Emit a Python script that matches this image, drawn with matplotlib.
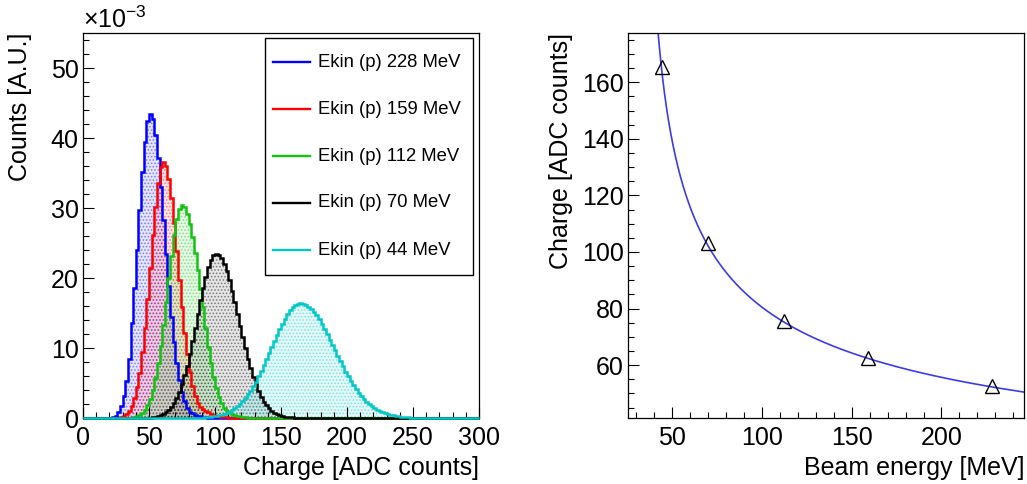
import numpy as np
import matplotlib
matplotlib.use('Agg')
import matplotlib.pyplot as plt
from matplotlib.colors import to_rgba
from matplotlib.patches import Rectangle
from matplotlib.ticker import MultipleLocator

plt.rcParams['font.family'] = ['Liberation Sans', 'DejaVu Sans']
plt.rcParams['mathtext.default'] = 'regular'
plt.rcParams['hatch.linewidth'] = 0.8

# ---------------- data ----------------
BIN_WIDTH = 2
N_BINS = 150  # 0..300 ADC

labels = ["Ekin (p) 228 MeV", "Ekin (p) 159 MeV", "Ekin (p) 112 MeV",
          "Ekin (p) 70 MeV", "Ekin (p) 44 MeV"]
colors = ["#0000ff", "#ff0000", "#11c411", "#000000", "#00c8c8"]

# first non-empty bin centre of each histogram (ADC counts)
hist_start = [21, 27, 35, 47, 81]

# bin contents in units of 1e-3 (A.U.)
h228 = [0.05, 0.15, 0.35, 0.8, 1.7, 3.1, 5.3, 8.5, 13.6, 18.6, 24.0, 29.7, 35.1,
        39.5, 42.4, 43.4, 42.7, 40.5, 37.2, 33.0, 28.3, 23.4, 18.8, 14.5, 10.8,
        7.8, 5.5, 3.7, 2.4, 1.5, 0.9, 0.7, 0.5, 0.35, 0.25, 0.15, 0.1, 0.05]
h159 = [0.06, 0.15, 0.3, 0.57, 1.0, 1.7, 2.8, 4.4, 6.5, 9.4, 12.9, 17.0, 21.5,
        26.1, 30.2, 33.6, 35.8, 36.6, 36.0, 34.2, 31.4, 27.8, 23.8, 19.7, 15.8,
        12.2, 9.1, 6.6, 4.6, 3.1, 2.2, 1.6, 1.25, 1.0, 0.8, 0.6, 0.45, 0.33,
        0.24, 0.17, 0.12, 0.08, 0.05, 0.03]
h112 = [0.03, 0.07, 0.13, 0.23, 0.41, 0.69, 1.1, 1.8, 2.7, 4.0, 5.7, 7.8, 10.3,
        13.3, 16.6, 20.0, 23.2, 26.1, 28.4, 29.9, 30.4, 30.1, 29.2, 27.7, 25.8,
        23.6, 21.1, 18.4, 15.8, 12.8, 10.2, 7.9, 5.9, 4.3, 3.0, 2.1, 1.45, 1.0,
        0.8, 0.6, 0.45, 0.32, 0.22, 0.15, 0.1, 0.06, 0.03]
h70 = [0.02, 0.04, 0.06, 0.10, 0.16, 0.25, 0.38, 0.55, 0.79, 1.12, 1.56, 2.1,
       2.8, 3.7, 4.8, 6.1, 7.5, 9.2, 11.0, 12.9, 14.8, 16.8, 18.6, 20.2, 21.6,
       22.6, 23.3, 23.5, 23.3, 22.8, 22.0, 21.0, 19.7, 18.2, 16.6, 14.9, 13.2,
       11.6, 10.0, 8.5, 7.1, 5.9, 4.8, 3.8, 3.0, 2.35, 1.82, 1.38, 1.03, 0.76,
       0.55, 0.40, 0.28, 0.20, 0.16, 0.12, 0.09, 0.07, 0.05, 0.04, 0.03, 0.02,
       0.01]
h44 = [0.01, 0.02, 0.03, 0.04, 0.05, 0.07, 0.10, 0.13, 0.17, 0.22, 0.29, 0.37,
       0.47, 0.59, 0.74, 0.92, 1.13, 1.39, 1.7, 2.0, 2.4, 2.9, 3.4, 3.9, 4.6,
       5.2, 6.0, 6.7, 7.6, 8.4, 9.3, 10.2, 11.0, 11.9, 12.7, 13.5, 14.2, 14.9,
       15.4, 15.8, 16.1, 16.3, 16.4, 16.35, 16.2, 15.9, 15.6, 15.2, 14.7, 14.1,
       13.4, 12.7, 12.0, 11.2, 10.4, 9.7, 8.9, 8.1, 7.4, 6.6, 6.0, 5.3, 4.7,
       4.1, 3.6, 3.1, 2.7, 2.3, 1.98, 1.69, 1.42, 1.19, 0.98, 0.81, 0.67, 0.55,
       0.44, 0.36, 0.29, 0.23, 0.18, 0.14, 0.11, 0.09, 0.07, 0.05, 0.04, 0.03,
       0.02, 0.015, 0.01]
hist_values = [h228, h159, h112, h70, h44]

# right panel: mean charge vs beam energy
beam_energy = [44, 70, 112, 159, 228]
charge_mean = [165.3, 103.2, 75.6, 62.4, 52.5]
# fitted curve  Q(E) = A * (E - E0)^P
FIT_A, FIT_E0, FIT_P = 443.0, 32.5, -0.405

# ---------------- figure ----------------
W, H = 1027, 484
fig = plt.figure(figsize=(W / 100, H / 100), dpi=100)

def style_axes(ax):
    ax.tick_params(which='both', direction='in', top=False, right=False,
                   labelsize=18, width=0.8)
    ax.tick_params(which='major', length=8)
    ax.tick_params(which='minor', length=4)
    ax.tick_params(axis='x', pad=6)
    ax.tick_params(axis='y', pad=3)
    for s in ax.spines.values():
        s.set_linewidth(0.9)

# ---- left panel ----
ax1 = fig.add_axes([83 / W, 66 / H, 396 / W, 385 / H])
edges = np.arange(0, N_BINS * BIN_WIDTH + 1, BIN_WIDTH)
for vals, start, col in zip(hist_values, hist_start, colors):
    h = np.zeros(N_BINS)
    i0 = (start - 1) // BIN_WIDTH
    h[i0:i0 + len(vals)] = vals
    ax1.stairs(h, edges, fill=True, facecolor=to_rgba(col, 0.10),
               edgecolor=to_rgba(col, 0.4), hatch='.....', linewidth=0)
    ax1.stairs(h, edges, color=col, linewidth=1.8, clip_on=False, zorder=3)

ax1.set_xlim(0, 300)
ax1.set_ylim(0, 55)
ax1.xaxis.set_major_locator(MultipleLocator(50))
ax1.xaxis.set_minor_locator(MultipleLocator(10))
ax1.yaxis.set_major_locator(MultipleLocator(10))
ax1.yaxis.set_minor_locator(MultipleLocator(2))
style_axes(ax1)
ax1.set_xlabel("Charge [ADC counts]", fontsize=18, ha='right', va='top')
ax1.xaxis.set_label_coords(1.0, -0.098)
ax1.set_ylabel("Counts [A.U.]", fontsize=18, ha='right', va='bottom')
ax1.yaxis.set_label_coords(-0.128, 1.0)
ax1.text(0.0, 1.0, r"×10$^{-3}$", transform=ax1.transAxes, fontsize=18,
         ha='left', va='bottom')

# legend (drawn manually to match box geometry)
ax1.add_patch(Rectangle((0.46, 0.371), 0.5256, 0.615, transform=ax1.transAxes,
                        facecolor='white', edgecolor='black', linewidth=1.0,
                        zorder=5))
leg_y = [0.924, 0.802, 0.680, 0.559, 0.436]
for lab, col, yy in zip(labels, colors, leg_y):
    ax1.plot([0.48, 0.573], [yy, yy], transform=ax1.transAxes, color=col,
             linewidth=1.7, zorder=6)
    ax1.text(0.593, yy, lab, transform=ax1.transAxes, fontsize=13.3,
             ha='left', va='center', zorder=6)

# ---- right panel ----
ax2 = fig.add_axes([628 / W, 66 / H, 396 / W, 385 / H])
e_curve = np.linspace(34.0, 246.0, 800)
ax2.plot(e_curve, FIT_A * (e_curve - FIT_E0) ** FIT_P, color='#3c3ce6',
         linewidth=1.2)
ax2.plot(beam_energy, charge_mean, linestyle='none', marker='^',
         markerfacecolor='none', markeredgecolor='black', markersize=10.5,
         markeredgewidth=1.0)
ax2.set_xlim(25.3, 246)
ax2.set_ylim(41.3, 177.4)
ax2.xaxis.set_major_locator(MultipleLocator(50))
ax2.xaxis.set_minor_locator(MultipleLocator(10))
ax2.yaxis.set_major_locator(MultipleLocator(20))
ax2.yaxis.set_minor_locator(MultipleLocator(5))
style_axes(ax2)
ax2.set_xlabel("Beam energy [MeV]", fontsize=18, ha='right', va='top')
ax2.xaxis.set_label_coords(1.0, -0.098)
ax2.set_ylabel("Charge [ADC counts]", fontsize=18, ha='right', va='bottom')
ax2.yaxis.set_label_coords(-0.139, 1.0)

fig.savefig("out.png", dpi=100)
